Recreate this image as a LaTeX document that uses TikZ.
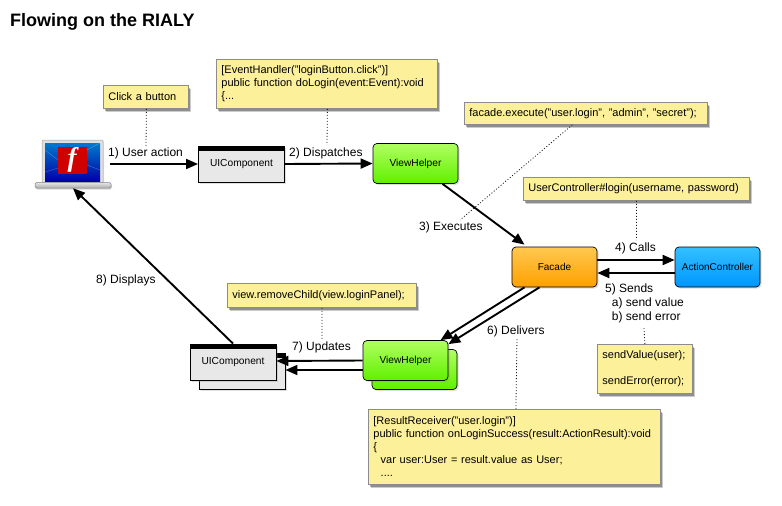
\documentclass[tikz,border=0pt]{standalone}
\usepackage{fontspec}
\setmainfont{Liberation Sans}
\newfontfamily\flashfont{Liberation Serif}
\usepackage{xcolor}
\usetikzlibrary{arrows.meta,shadows}
\definecolor{notefill}{HTML}{FDF09B}
\definecolor{noteline}{HTML}{8C8C8C}
\definecolor{uifill}{HTML}{E8E8E8}
\definecolor{limetop}{HTML}{B0FF60}
\definecolor{limebot}{HTML}{60F000}
\definecolor{orangetop}{HTML}{FFC850}
\definecolor{orangebot}{HTML}{FFA000}
\definecolor{skytop}{HTML}{33C0FF}
\definecolor{skybot}{HTML}{0096FF}
\tikzstyle{flow} = [line width=1.9pt,-{Triangle[length=12pt,width=10pt]}]
\tikzstyle{link} = [line width=0.8pt,dash pattern=on 1pt off 2pt,black!90]
\tikzstyle{step label} = [font=\fontsize{12}{14}\selectfont,inner sep=0pt,anchor=west,align=left]
\tikzstyle{note} = [draw=noteline,line width=0.8pt,fill=notefill,inner ysep=0pt,inner xsep=5pt,anchor=north west,
    font=\fontsize{11}{13}\selectfont,align=left,
    drop shadow={shadow xshift=3pt,shadow yshift=-4pt,opacity=0.2,fill=black},
    drop shadow={shadow xshift=2pt,shadow yshift=-2.5pt,opacity=0.3,fill=black}]
\tikzstyle{uibox} = [draw,line width=0.9pt,fill=uifill,inner sep=0pt,minimum width=86pt,minimum height=36pt,
    font=\fontsize{10.2}{12}\selectfont,
    drop shadow={shadow xshift=1.5pt,shadow yshift=-1.5pt,opacity=0.25}]
\tikzstyle{rbox} = [draw,line width=0.7pt,rounded corners=4pt,inner sep=0pt,minimum width=85pt,minimum height=40pt,
    font=\fontsize{10.2}{12}\selectfont,
    drop shadow={shadow xshift=1.5pt,shadow yshift=-1.5pt,opacity=0.25}]
\tikzstyle{greenbox} = [rbox,top color=limetop,bottom color=limebot]
\begin{document}
\begin{tikzpicture}[x=1pt,y=-1pt]
    \useasboundingbox (0,0) rectangle (782,506);

    \node[anchor=base west,inner sep=0pt,font=\fontsize{18}{20}\selectfont\bfseries] (title) at (10,26) {Flowing on the RIALY};

    % laptop
    \node[inner sep=0pt,minimum width=70pt,minimum height=48pt] (laptop) at (73,164) {};
    \fill[gray!25,draw=gray!70,line width=0.5pt,rounded corners=1pt,
        drop shadow={shadow xshift=1pt,shadow yshift=-1pt,opacity=0.2}] (42,140) rectangle (103,183);
    \shade[top color=blue!40!cyan!80!black,bottom color=blue!65!black] (45,143) rectangle (100,181);
    \draw[white,opacity=0.25,line width=0.5pt] (45,150) -- (58,160) (45,172) -- (58,168) (87,150) -- (100,143) (87,165) -- (100,170);
    \fill[red!82!black] (58,147) rectangle (87,174);
    \node[text=white,inner sep=0pt,font=\fontsize{27}{27}\selectfont\flashfont\itshape\bfseries] (flash) at (72,160) {f};
    \shade[top color=gray!20,bottom color=gray!65,draw=gray,line width=0.5pt,rounded corners=1.5pt,
        drop shadow={shadow xshift=1pt,shadow yshift=-1.5pt,opacity=0.3}] (35,182.5) rectangle (111,188);

    % notes
    \node[note,text width=75pt,minimum height=23pt] (noteclick) at (103,85) {Click a button};
    \node[note,text width=211pt,minimum height=49pt] (noteevent) at (216,59) {[EventHandler("loginButton.click")]\\public function doLogin(event:Event):void\\\{...};
    \node[note,text width=233pt,minimum height=22pt] (notefacade) at (464,102) {facade.execute("user.login", "admin", "secret");};
    \node[note,text width=216pt,minimum height=23pt] (noteuser) at (523,177) {UserController\#login(username, password)};
    \node[note,text width=85pt,minimum height=49pt] (notesend) at (597,344) {sendValue(user);\\[13pt]sendError(error);};
    \node[note,text width=179pt,minimum height=24pt] (noteview) at (227,283) {view.removeChild(view.loginPanel);};
    \node[note,text width=282pt,minimum height=75pt] (noteresult) at (368,409) {[ResultReceiver("user.login")]\\public function onLoginSuccess(result:ActionResult):void\\\{\\\ \ var user:User = result.value as User;\\\ \ ....};

    % components
    \node[uibox] (uitop) at (241.5,164) {UIComponent};
    \fill (198.5,146) rectangle (284.5,150.5);
    \node[greenbox] (helpertop) at (415.5,163.5) {ViewHelper};
    \node[rbox,top color=orangetop,bottom color=orangebot,font=\fontsize{10}{12}\selectfont] (facade) at (554.5,267) {Facade};
    \node[rbox,top color=skytop,bottom color=skybot,font=\fontsize{10}{12}\selectfont] (action) at (717.5,267) {ActionController};

    \node[greenbox] (helperback) at (414.5,369.5) {};
    \node[greenbox] (helperfront) at (405.5,360.5) {ViewHelper};
    \node[uibox] (uiback) at (242,371) {};
    \fill (276,353) rectangle (285,358);
    \node[uibox] (uifront) at (233,362) {UIComponent};
    \fill (190,344) rectangle (276,348.5);

    % step labels
    \node[step label] (lblone) at (108,153) {1) User action};
    \node[step label] (lbltwo) at (289,153) {2) Dispatches};
    \node[step label] (lblthree) at (419,227) {3) Executes};
    \node[step label] (lblfour) at (615,248) {4) Calls};
    \node[step label,anchor=north west] (lblfive) at (605,283.5) {5) Sends\\\ \ a) send value\\\ \ b) send error};
    \node[step label] (lblsix) at (487,331) {6) Delivers};
    \node[step label] (lblseven) at (292,347) {7) Updates};
    \node[step label] (lbleight) at (96,280) {8) Displays};

    % flows
    \draw[flow] (laptop.east) ++(2,0) -- (uitop.west);
    \draw[flow] (uitop.east) -- (helpertop.west);
    \draw[flow] (helpertop.south) ++(27,0) -- ([xshift=-30pt,yshift=2pt]facade.north);
    \draw[flow] ([yshift=7pt]facade.east) -- ([yshift=7pt]action.west);
    \draw[flow] ([yshift=-6pt]action.west) -- ([yshift=-6pt]facade.east);
    \draw[flow] ([xshift=-30pt]facade.south) -- ([xshift=35pt]helperfront.north);
    \draw[flow] ([xshift=-15pt]facade.south) -- ([yshift=-4pt]helperfront.north east);
    \draw[flow] (helperfront.west) -- ([yshift=1pt]uifront.east);
    \draw[flow] ([yshift=-9.5pt]helperfront.west) -- ([yshift=1pt]uiback.east);
    \draw[flow] (uifront.north) -- (laptop.south);

    % note links
    \coordinate (facadeend) at (460,220);
    \draw[link] (noteclick.south) ++(0.5,0) -- (146,146);
    \draw[link] (noteevent.south) ++(0.5,0) -- (327,145);
    \draw[link] (notefacade.south) ++(-13.5,0) -- (facadeend);
    \draw[link] (noteuser.south) -- (636.5,240);
    \draw[link] (notesend.north) -- (644,328);
    \draw[link] (noteview.south) -- (322,340);
    \draw[link] (noteresult.north) ++(1.5,0) -- (517,338);
\end{tikzpicture}
\end{document}
